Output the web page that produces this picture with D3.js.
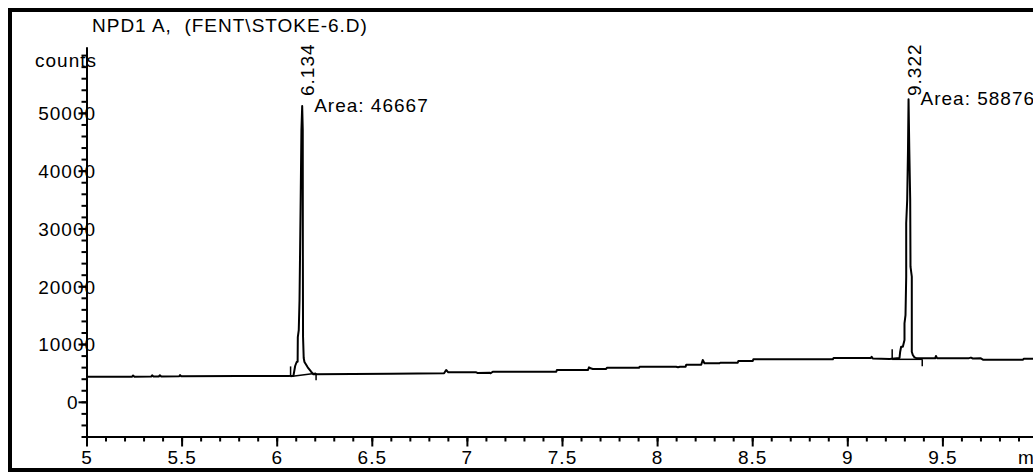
<!DOCTYPE html>
<html>
<head>
<meta charset="utf-8">
<script src="https://cdn.jsdelivr.net/npm/d3@7"></script>
<style>
  html, body { margin: 0; padding: 0; background: #fff; }
  svg { display: block; }
  text {
    font-family: "Liberation Sans", Arial, Helvetica, sans-serif;
    font-size: 19px;
    letter-spacing: 1px;
    fill: #000;
  }
</style>
</head>
<body>
<svg id="chart" width="1033" height="472"></svg>
<script>
// ---- data ---------------------------------------------------------------
const title = "NPD1 A,  (FENT\\STOKE-6.D)";
const yUnit = "counts";
const xUnit = "min";

// axis ticks
const timeMajor = [5, 5.5, 6, 6.5, 7, 7.5, 8, 8.5, 9, 9.5];
const timeLabels = ["5", "5.5", "6", "6.5", "7", "7.5", "8", "8.5", "9", "9.5"];
const timeMinor = d3.range(50, 101).map(v => v / 10);
const countMajor = [0, 10000, 20000, 30000, 40000, 50000];
const countLabels = ["0", "10000", "20000", "30000", "40000", "50000"];
const countMinor = d3.range(-6000, 60001, 2000);

// detector signal: [retention time (min), counts]
const signal = [
  [5.000, 4340], [5.240, 4350], [5.245, 4560], [5.252, 4360],
  [5.340, 4370], [5.345, 4580], [5.352, 4380], [5.380, 4390],
  [5.386, 4600], [5.393, 4400], [5.488, 4410], [5.492, 4620],
  [5.498, 4430], [5.800, 4450], [6.060, 4460],
  // peak at 6.134
  [6.088, 4520], [6.097, 6200], [6.105, 6890], [6.110, 6940],
  [6.111, 11210], [6.116, 12420], [6.120, 17620], [6.126, 34920],
  [6.130, 47030], [6.134, 51190], [6.137, 47030], [6.1375, 26270],
  [6.1385, 11270], [6.142, 7580], [6.146, 6890], [6.163, 5970],
  [6.181, 5210], [6.193, 4760],
  [6.400, 4800], [6.600, 4850], [6.880, 4930], [6.891, 5500],
  [6.902, 5100], [7.049, 5105], [7.055, 5000], [7.119, 5050],
  [7.125, 4940], [7.136, 5209], [7.470, 5209], [7.473, 5503],
  [7.636, 5503], [7.642, 5970], [7.650, 5797], [7.662, 5680],
  [7.732, 5680], [7.736, 5900], [7.905, 5900], [7.908, 6074],
  [8.100, 6074], [8.110, 5990], [8.120, 6074], [8.150, 6074],
  [8.153, 6420], [8.232, 6420], [8.240, 7233], [8.249, 6662],
  [8.328, 6662], [8.332, 6766], [8.424, 6766], [8.427, 7060],
  [8.503, 7060], [8.506, 7354], [8.924, 7354], [8.928, 7600],
  [9.124, 7600], [9.128, 7800], [9.134, 7500], [9.222, 7400],
  // peak at 9.322
  [9.2745, 7600], [9.278, 8669], [9.283, 9535], [9.292, 9535],
  [9.3007, 10694], [9.3007, 13584], [9.306, 15020], [9.3097, 21647],
  [9.3097, 30888], [9.3149, 34920], [9.3191, 43572], [9.322, 52345],
  [9.326, 43572], [9.3307, 34920], [9.3323, 23378], [9.3391, 21647],
  [9.3391, 8669], [9.3444, 8098], [9.3533, 7700], [9.3665, 7527],
  [9.462, 7527], [9.466, 7925], [9.472, 7560], [9.640, 7560],
  [9.650, 7650], [9.660, 7500], [9.700, 7560], [9.713, 7300],
  [9.923, 7300], [9.928, 7440], [10.000, 7440]
];

// integrated peaks
const peakRT = [6.134, 9.322];
const peakArea = [46667, 58876];
const peakApex = [51190, 52345];
const peakStart = [[6.073, 4400], [9.236, 7354]];
const peakEnd = [[6.207, 4930], [9.394, 7354]];

// ---- layout -------------------------------------------------------------
const svg = d3.select("#chart");
const W = 1033, H = 472;

const x = d3.scaleLinear().domain([5, 10]).range([86.5, 86.5 + 5 * 190.2]);
const y = d3.scaleLinear().domain([-6000, 61400]).range([436.5, 47]);

// page frame (open to the right)
svg.append("rect")
  .attr("x", 10).attr("y", 10)
  .attr("width", W + 20).attr("height", H - 12)
  .attr("fill", "none").attr("stroke", "#000").attr("stroke-width", 4);

// title and units
svg.append("text")
  .attr("x", 92).attr("y", 31.5)
  .style("white-space", "pre")
  .text(title);

svg.append("text")
  .attr("x", 35).attr("y", 66.5)
  .text(yUnit);

// ---- axes ---------------------------------------------------------------
const xAxisY = y(-6000);
const yAxisX = x(5);
const xLabelOffset = 27.5;

function styleAxis(g) {
  g.attr("font-family", null).attr("font-size", null);
  g.selectAll("path.domain").attr("stroke", "#000").attr("stroke-width", 2);
  g.selectAll(".tick line").attr("stroke", "#000").attr("stroke-width", 2);
}

// x axis: minor ticks
svg.append("g")
  .attr("transform", `translate(0,${xAxisY})`)
  .call(d3.axisBottom(x).tickValues(timeMinor).tickSize(5).tickSizeOuter(0).tickFormat(""))
  .call(styleAxis)
  .call(g => g.selectAll("text").remove());

// x axis: major ticks and labels
svg.append("g")
  .attr("transform", `translate(0,${xAxisY})`)
  .call(d3.axisBottom(x).tickValues(timeMajor).tickSize(10).tickSizeOuter(0)
    .tickFormat((d, i) => timeLabels[i]))
  .call(styleAxis)
  .call(g => g.selectAll(".tick text")
    .attr("y", xLabelOffset).attr("dy", null)
    .attr("fill", "#000"));

svg.append("text")
  .attr("x", 1018).attr("y", xAxisY + xLabelOffset)
  .text(xUnit);

// y axis: minor ticks
svg.append("g")
  .attr("transform", `translate(${yAxisX},0)`)
  .call(d3.axisLeft(y).tickValues(countMinor).tickSize(5).tickSizeOuter(0).tickFormat(""))
  .call(styleAxis)
  .call(g => g.selectAll("text").remove());

// y axis: major ticks and labels
svg.append("g")
  .attr("transform", `translate(${yAxisX},0)`)
  .call(d3.axisLeft(y).tickValues(countMajor).tickSize(8).tickSizeOuter(0)
    .tickFormat((d, i) => countLabels[i]))
  .call(styleAxis)
  .call(g => g.selectAll(".tick text")
    .attr("text-anchor", "start")
    .attr("x", d => {
      const s = countLabels[countMajor.indexOf(d)];
      return 67 - (s.length - 1) * 7.2 - yAxisX;
    })
    .attr("dy", "0.36em")
    .attr("fill", "#000"));

// ---- signal trace -------------------------------------------------------
const line = d3.line()
  .x(d => x(d[0]))
  .y(d => y(d[1]));

svg.append("path")
  .datum(signal)
  .attr("d", line)
  .attr("fill", "none")
  .attr("stroke", "#000")
  .attr("stroke-width", 2)
  .attr("stroke-linejoin", "round");

// integration baselines and start/end markers
peakRT.forEach((rt, i) => {
  const s = peakStart[i], e = peakEnd[i];
  svg.append("path")
    .datum([s, e])
    .attr("d", line)
    .attr("fill", "none")
    .attr("stroke", "#000")
    .attr("stroke-width", 1.5);

  svg.append("line")
    .attr("x1", x(s[0])).attr("x2", x(s[0]))
    .attr("y1", y(s[1])).attr("y2", y(s[1]) - 10)
    .attr("stroke", "#000").attr("stroke-width", 1.5);

  svg.append("line")
    .attr("x1", x(e[0])).attr("x2", x(e[0]))
    .attr("y1", y(e[1])).attr("y2", y(e[1]) + 7)
    .attr("stroke", "#000").attr("stroke-width", 1.5);

  // retention time, written upward
  svg.append("text")
    .attr("transform", `translate(${x(rt) + 12},96) rotate(-90)`)
    .text(rt.toFixed(3));

  // area annotation
  svg.append("text")
    .attr("x", x(rt) + 12)
    .attr("y", y(peakApex[i]) + 5.5)
    .text("Area: " + peakArea[i]);
});
</script>
</body>
</html>
